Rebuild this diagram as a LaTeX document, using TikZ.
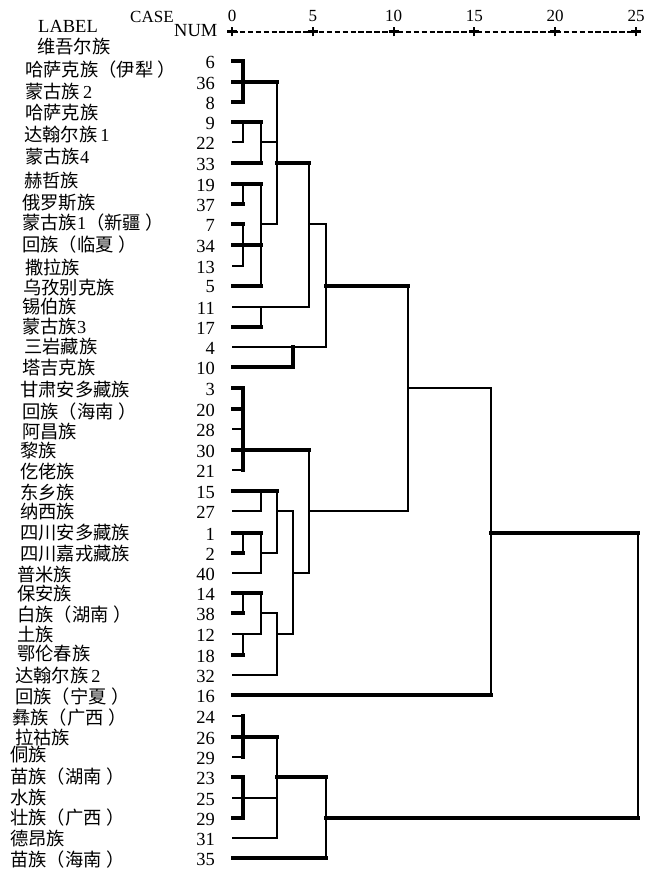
\documentclass[tikz,border=0pt]{standalone}
\usepackage{fontspec}
\setmainfont{Liberation Serif}
\newfontfamily\cjk{Noto Sans CJK SC}
\newcommand{\rp}{\kern0.25em）}
\begin{document}
\begin{tikzpicture}[x=1pt,y=-1pt,
  lab/.style={anchor=west,inner sep=0pt,font=\fontsize{18.3}{18}\selectfont\cjk},
  num/.style={anchor=east,inner sep=0pt,font=\fontsize{18.5}{18}\selectfont},
  hdr/.style={inner sep=0pt,font=\fontsize{17}{17}\selectfont},
  thk/.style={line width=3.8pt},
  med/.style={line width=2.8pt},
  thn/.style={line width=2.2pt},
  every path/.style={line cap=rect}]
\useasboundingbox (0,0) rectangle (646,874);
% header
\node[hdr,font=\fontsize{18.5}{18}\selectfont] (lbl) at (68,26) {LABEL};
\node[hdr,anchor=west] (case) at (130,17) {CASE};
\node[hdr,anchor=west,font=\fontsize{18.5}{18}\selectfont] (numh) at (174,31) {NUM};
\foreach \k/\t in {0/0,1/5,2/10,3/15,4/20,5/25}{
  \coordinate (t\k) at ({232+80.8*\k},32);
  \node[hdr] (tl\k) at ({232+80.8*\k},16) {\t};
}
\draw[line width=2.8pt,line cap=butt,dash pattern=on 5.5pt off 2.4pt] (t0) -- (t5);
\foreach \k in {0,...,5}{
  \draw[line width=3pt,line cap=butt] ([xshift=-5pt]t\k) -- ([xshift=5pt]t\k);
  \draw[line width=2pt,line cap=butt] ([yshift=-4.5pt]t\k) -- ([yshift=4.5pt]t\k);
}
% labels
\foreach \i/\x/\y/\t in {
 0/37/47/维吾尔族,
 1/25/70/哈萨克族（伊犁\rp,
 2/25/92/蒙古族\,{\rmfamily 2},
 3/25/113/哈萨克族,
 4/24/135/达翰尔族\,{\rmfamily 1},
 5/25/157/蒙古族{\rmfamily 4},
 6/24/181/赫哲族,
 7/22/203/俄罗斯族,
 8/22/223/蒙古族{\rmfamily 1}（新疆\rp,
 9/22/245/回族（临夏\rp,
 10/25/268/撒拉族,
 11/23/288/乌孜别克族,
 12/22/307/锡伯族,
 13/22/327/蒙古族{\rmfamily 3},
 14/24/347/三岩藏族,
 15/22/368/塔吉克族,
 16/20/390/甘肃安多藏族,
 17/22/412/回族（海南\rp,
 18/22/432/阿昌族,
 19/20/451/黎族,
 20/20/472/仡佬族,
 21/20/492/东乡族,
 22/20/512/纳西族,
 23/20/533/四川安多藏族,
 24/20/554/四川嘉戎藏族,
 25/17/575/普米族,
 26/17/594/保安族,
 27/17/615/白族（湖南\rp,
 28/17/635/土族,
 29/17/653/鄂伦春族,
 30/15/675/达翰尔族\,{\rmfamily 2},
 31/15/697/回族（宁夏\rp,
 32/12/718/彝族（广西\rp,
 33/15/737/拉祜族,
 34/10/755/侗族,
 35/10/777/苗族（湖南\rp,
 36/10/798/水族,
 37/10/818/壮族（广西\rp,
 38/10/839/德昂族,
 39/10/860/苗族（海南\rp}{
  \node[lab] (lab\i) at (\x,\y) {\t};
}
% leaf numbers and coordinates
\foreach \i/\y/\n in {1/61/6,2/82/36,3/102/8,4/122/9,5/142/22,6/163/33,7/184/19,8/204/37,
  9/224/7,10/245/34,11/266/13,12/286/5,13/307/11,14/327/17,15/347/4,16/367/10,
  17/388/3,18/409/20,19/429/28,20/450/30,21/470/21,22/491/15,23/511/27,24/533/1,
  25/553/2,26/573/40,27/593/14,28/613/38,29/634/12,30/655/18,31/675/32,32/695/16,
  33/716/24,34/737/26,35/757/29,36/777/23,37/798/25,38/818/29,39/838/31,40/858/35}{
  \node[num] (n\i) at (215,\y+1) {\n};
  \coordinate (r\i) at (233,\y);
}
\coordinate (xa) at (243,0);
\coordinate (xb) at (261,0);
\coordinate (xc) at (277,0);
\coordinate (xd) at (293,0);
\coordinate (xe) at (309,0);
\coordinate (xf) at (326,0);
\coordinate (xg) at (408,0);
\coordinate (xh) at (491,0);
\coordinate (xk) at (638,0);
% rows 1-3
\draw[thk] (r1) -- (r1 -| xa);
\draw[thk] (r3) -- (r3 -| xa);
\draw[thk] (r1 -| xa) -- (r3 -| xa);
\draw[thk] (r2) -- (r2 -| xc);
% rows 4-6
\draw[med] (r4 -| xa) -- (r5 -| xa);
\draw[thk] (r4) -- (r4 -| xb);
\draw[thn] (r5) -- (r5 -| xa);
\draw[thk] (r6) -- (r6 -| xb);
\draw[med] (r4 -| xb) -- (r6 -| xb);
\draw[thn] (r5 -| xb) -- (r5 -| xc);
\draw[med] (r2 -| xc) -- (r9 -| xc);
\draw[thk] (r6 -| xc) -- (r6 -| xe);
\draw[med] (r6 -| xe) -- (r13 -| xe);
% rows 7-12
\draw[thk] (r7) -- (r7 -| xb);
\draw[med] (r7 -| xa) -- (r8 -| xa);
\draw[thk] (r8) -- (r8 -| xa);
\draw[med] (r7 -| xb) -- (r12 -| xb);
\draw[thn] (r9 -| xb) -- (r9 -| xc);
\draw[thk] (r9) -- (r9 -| xa);
\draw[med] (r9 -| xa) -- (r11 -| xa);
\draw[thk] (r10) -- (r10 -| xb);
\draw[med] (r11) -- (r11 -| xa);
\draw[thk] (r12) -- (r12 -| xb);
% rows 13-16
\draw[thn] (r13) -- (r13 -| xe);
\draw[med] (r13 -| xb) -- (r14 -| xb);
\draw[thk] (r14) -- (r14 -| xb);
\draw[med] (r9 -| xe) -- (r9 -| xf);
\draw[med] (r9 -| xf) -- (r15 -| xf);
\draw[thn] (r15) -- (r15 -| xf);
\draw[thk] (r15 -| xd) -- (r16 -| xd);
\draw[thk] (r16) -- (r16 -| xd);
\draw[thk] (r12 -| xf) -- (r12 -| xg);
\draw[med] (r12 -| xg) -- (r23 -| xg);
\draw[med] (r17 -| xg) -- (r17 -| xh);
\draw[med] (r17 -| xh) -- (r32 -| xh);
\draw[thk] (r32) -- (r32 -| xh);
\draw[thk] (r24 -| xh) -- (r24 -| xk);
\draw[med] (r24 -| xk) -- (r38 -| xk);
\draw[thk] (r38 -| xf) -- (r38 -| xk);
% rows 17-21
\draw[thk] (r17) -- (r17 -| xa);
\draw[thk] (r18) -- (r18 -| xa);
\draw[med] (r19) -- (r19 -| xa);
\draw[thk] (r20) -- (r20 -| xe);
\draw[med] (r21) -- (r21 -| xa);
\draw[thk] (r17 -| xa) -- (r21 -| xa);
\draw[med] (r20 -| xe) -- (r26 -| xe);
\draw[med] (r23 -| xe) -- (r23 -| xg);
% rows 22-31
\draw[thk] (r22) -- (r22 -| xc);
\draw[med] (r22 -| xb) -- (r23 -| xb);
\draw[med] (r23) -- (r23 -| xb);
\draw[med] (r22 -| xc) -- (r25 -| xc);
\draw[med] (r23 -| xc) -- (r23 -| xd);
\draw[med] (r23 -| xd) -- (r29 -| xd);
\draw[thk] (r24) -- (r24 -| xb);
\draw[med] (r24 -| xa) -- (r25 -| xa);
\draw[thk] (r25) -- (r25 -| xa);
\draw[med] (r24 -| xb) -- (r26 -| xb);
\draw[med] (r26) -- (r26 -| xb);
\draw[med] (r25 -| xb) -- (r25 -| xc);
\draw[med] (r26 -| xd) -- (r26 -| xe);
\draw[thk] (r27) -- (r27 -| xb);
\draw[med] (r27 -| xa) -- (r28 -| xa);
\draw[thk] (r28) -- (r28 -| xa);
\draw[med] (r27 -| xb) -- (r29 -| xb);
\draw[med] (r29) -- (r29 -| xb);
\draw[med] (r29 -| xa) -- (r30 -| xa);
\draw[thk] (r30) -- (r30 -| xa);
\draw[med] (r28 -| xb) -- (r28 -| xc);
\draw[med] (r28 -| xc) -- (r31 -| xc);
\draw[med] (r31) -- (r31 -| xc);
\draw[med] (r29 -| xc) -- (r29 -| xd);
% rows 33-40
\draw[med] (r33) -- (r33 -| xa);
\draw[thk] (r33 -| xa) -- (r35 -| xa);
\draw[thk] (r34) -- (r34 -| xc);
\draw[med] (r35) -- (r35 -| xa);
\draw[thk] (r36) -- (r36 -| xa);
\draw[thk] (r36 -| xa) -- (r38 -| xa);
\draw[thn] (r37) -- (r37 -| xc);
\draw[thk] (r38) -- (r38 -| xa);
\draw[med] (r34 -| xc) -- (r39 -| xc);
\draw[med] (r39) -- (r39 -| xc);
\draw[thk] (r36 -| xc) -- (r36 -| xf);
\draw[med] (r36 -| xf) -- (r40 -| xf);
\draw[thk] (r40) -- (r40 -| xf);
\end{tikzpicture}
\end{document}
